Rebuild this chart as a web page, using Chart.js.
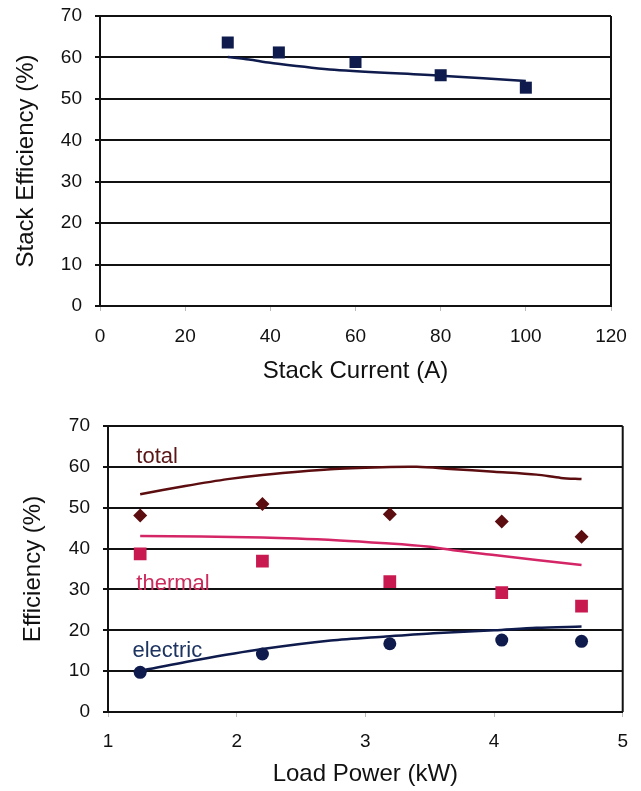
<!DOCTYPE html>
<html>
<head>
<meta charset="utf-8">
<script src="https://cdn.jsdelivr.net/npm/chart.js@4"></script>
<style>
  body { margin: 0; background: #fff; }
  .box { position: absolute; left: 0; width: 641px; }
  #top { top: 0; height: 395px; }
  #bottom { top: 395px; height: 396px; }
</style>
</head>
<body>
<div class="box" id="top"><canvas id="stackChart" width="641" height="395"></canvas></div>
<div class="box" id="bottom"><canvas id="effChart" width="641" height="396"></canvas></div>
<script>
// stack efficiency vs current
const stackCurrent = [30, 42, 60, 80, 100];
const stackEffMeasured = [63.6, 61.2, 58.9, 55.7, 52.7];
const stackModelX = [30, 35, 40, 55, 80, 100];
const stackModelY = [60.1, 59.5, 58.7, 57.0, 55.6, 54.3];

// system efficiency vs load power
const loadPower = [1.25, 2.2, 3.19, 4.06, 4.68];
const totalMeasured = [48.1, 50.9, 48.4, 46.6, 42.9];
const thermalMeasured = [38.7, 36.9, 31.9, 29.2, 25.9];
const electricMeasured = [9.7, 14.2, 16.7, 17.6, 17.3];

const totalModelX = [1.25, 1.6, 1.93, 2.2, 2.73, 3.13, 3.4, 3.66, 4.0, 4.33, 4.52, 4.68];
const totalModelY = [53.3, 55.3, 57.0, 58.0, 59.4, 59.9, 60.0, 59.5, 58.8, 58.1, 57.3, 57.0];
const thermalModelX = [1.25, 2.2, 2.8, 3.16, 3.48, 3.7, 4.0, 4.33, 4.68];
const thermalModelY = [43.1, 42.7, 42.0, 41.3, 40.5, 39.5, 38.4, 37.2, 36.0];
const electricModelX = [1.25, 1.7, 2.2, 2.73, 3.16, 3.53, 4.0, 4.33, 4.68];
const electricModelY = [10.1, 12.8, 15.4, 17.5, 18.5, 19.3, 20.0, 20.6, 20.9];

const seriesLabels = ['total', 'thermal', 'electric'];
const labelX = [1.22, 1.22, 1.19];
const labelY = [61.0, 29.8, 13.4];

const FONT = '"Liberation Sans", Arial, sans-serif';
const NAVY = '#0e1b4c';
const MAROON = '#5c0d10';
const CRIMSON = '#c81a50';

function pairs(xs, ys) {
    return xs.map((x, i) => ({ x: x, y: ys[i] }));
}

// closes the plot box on the right side
const frame = {
    id: 'frame',
    afterDraw(chart) {
        const a = chart.chartArea;
        const c = chart.ctx;
        c.save();
        c.strokeStyle = '#111';
        c.lineWidth = 2;
        c.beginPath();
        c.moveTo(a.right, a.top);
        c.lineTo(a.right, a.bottom);
        c.stroke();
        c.restore();
    }
};

const seriesText = {
    id: 'seriesText',
    afterDatasetsDraw(chart) {
        if (chart.canvas.id !== 'effChart') return;
        const c = chart.ctx;
        const colors = ['#5a1616', '#cc2a5c', '#1d3461'];
        c.save();
        c.font = '22px ' + FONT;
        c.textBaseline = 'alphabetic';
        seriesLabels.forEach((t, i) => {
            c.fillStyle = colors[i];
            c.fillText(t, chart.scales.x.getPixelForValue(labelX[i]), chart.scales.y.getPixelForValue(labelY[i]));
        });
        c.restore();
    }
};

function axes(xMin, xMax, xStep, xTitle, yTitle, yWidth, xHeight, yTitlePad, xTitlePad, xTickPad) {
    return {
        x: {
            type: 'linear', min: xMin, max: xMax,
            ticks: { stepSize: xStep, color: '#111', font: { family: FONT, size: 19 }, padding: xTickPad },
            grid: { drawOnChartArea: false, tickLength: 5, tickColor: '#bbb' },
            border: { color: '#111', width: 2 },
            title: { display: true, text: xTitle, color: '#111', font: { family: FONT, size: 24 }, padding: { top: 0, bottom: xTitlePad } },
            afterFit(s) { s.height = xHeight; }
        },
        y: {
            min: 0, max: 70,
            ticks: { stepSize: 10, color: '#111', font: { family: FONT, size: 19 }, padding: 13 },
            grid: { color: '#111', lineWidth: 2, tickLength: 5 },
            border: { color: '#111', width: 2 },
            title: { display: true, text: yTitle, color: '#111', font: { family: FONT, size: 24 }, padding: { top: yTitlePad, bottom: 0 } },
            afterFit(s) { s.width = yWidth; s.paddingTop = 0; s.paddingBottom = 0; }
        }
    };
}

const common = {
    responsive: false,
    animation: false,
    plugins: { legend: { display: false }, tooltip: { enabled: false } }
};

new Chart(document.getElementById('stackChart'), {
    type: 'scatter',
    data: {
        datasets: [
            {
                data: pairs(stackCurrent, stackEffMeasured),
                pointStyle: 'rect', pointRadius: 8.5,
                backgroundColor: NAVY, borderColor: NAVY, borderWidth: 0
            },
            {
                type: 'line',
                data: pairs(stackModelX, stackModelY),
                borderColor: NAVY, borderWidth: 2.5, pointRadius: 0, tension: 0.3, fill: false
            }
        ]
    },
    options: Object.assign({}, common, {
        layout: { padding: { top: 16, right: 30, left: 0, bottom: 0 } },
        scales: axes(0, 120, 20, 'Stack Current (A)', 'Stack Efficiency (%)', 100, 89, 12, 9, 14)
    }),
    plugins: [frame]
});

new Chart(document.getElementById('effChart'), {
    type: 'scatter',
    data: {
        datasets: [
            {
                type: 'line', data: pairs(totalModelX, totalModelY),
                borderColor: MAROON, borderWidth: 2.5, pointRadius: 0, tension: 0.3, fill: false
            },
            {
                type: 'line', data: pairs(thermalModelX, thermalModelY),
                borderColor: '#d42666', borderWidth: 2.5, pointRadius: 0, tension: 0.3, fill: false
            },
            {
                type: 'line', data: pairs(electricModelX, electricModelY),
                borderColor: NAVY, borderWidth: 2.5, pointRadius: 0, tension: 0.3, fill: false
            },
            {
                data: pairs(loadPower, totalMeasured),
                pointStyle: 'rectRot', pointRadius: 7,
                backgroundColor: MAROON, borderColor: MAROON, borderWidth: 0
            },
            {
                data: pairs(loadPower, thermalMeasured),
                pointStyle: 'rect', pointRadius: 9,
                backgroundColor: CRIMSON, borderColor: CRIMSON, borderWidth: 0
            },
            {
                data: pairs(loadPower, electricMeasured),
                pointStyle: 'circle', pointRadius: 6.5,
                backgroundColor: NAVY, borderColor: NAVY, borderWidth: 0
            }
        ]
    },
    options: Object.assign({}, common, {
        layout: { padding: { top: 31, right: 17, left: 0, bottom: 0 } },
        scales: axes(1, 5, 1, 'Load Power (kW)', 'Efficiency (%)', 108, 79, 19, 2, 13)
    }),
    plugins: [frame, seriesText]
});
</script>
</body>
</html>
